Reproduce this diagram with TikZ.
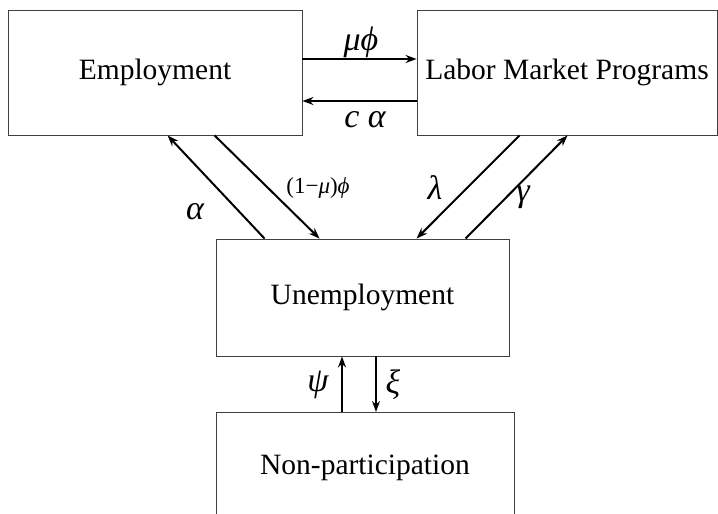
\documentclass[tikz,border=0pt]{standalone}
\usepackage{fontspec}
\setmainfont{Liberation Serif}
\usetikzlibrary{arrows.meta}
\tikzset{
  box/.style={draw=black!75, line width=0.9pt, inner sep=0pt, align=center,
    font=\fontsize{29.5}{34}\selectfont},
  flow/.style={line width=2pt, -{Stealth[length=11pt,width=8pt]}},
  lab/.style={inner sep=0pt, font=\fontsize{34}{38}\selectfont\itshape},
  smalllab/.style={inner sep=0pt, font=\fontsize{23}{26}\selectfont},
}
\begin{document}
\begin{tikzpicture}[x=1pt,y=-1pt]
\useasboundingbox (0,0) rectangle (718,514);
\clip (0,0) rectangle (718,514);
% boxes
\node[box, minimum width=294pt, minimum height=125pt] (emp) at (155,72.5) {Employment};
\node[box, minimum width=300pt, minimum height=125pt] (lmp) at (567,72.5) {Labor Market Programs};
\node[box, minimum width=293pt, minimum height=117pt] (une) at (362.5,297.5) {Unemployment};
\node[box, minimum width=298pt, minimum height=120pt, anchor=north] (non) at (365,412) {};
\node[box, draw=none] (nontext) at (365,468) {Non-participation};
% horizontal flows
\draw[flow] ([yshift=13.5pt]emp.east) -- ([yshift=13.5pt]lmp.west);
\draw[flow] ([yshift=-28.5pt]lmp.west) -- ([yshift=-28.5pt]emp.east);
\node[lab] (lmuphi) at (361,42) {μϕ};
\node[lab] (lca) at (365,120) {c α};
% Employment <-> Unemployment
\draw[flow] ([xshift=49pt]une.north west) -- ([xshift=160pt]emp.south west);
\draw[flow] ([xshift=207pt]emp.south west) -- ([xshift=104pt]une.north west);
\node[lab] (lalpha) at (195,212) {α};
\node[smalllab] (lmu) at (318,188) {(1−\textit{μ})\textit{ϕ}};
% Labor <-> Unemployment
\draw[flow] ([xshift=103pt]lmp.south west) -- ([xshift=201pt]une.north west);
\draw[flow] ([xshift=250pt]une.north west) -- ([xshift=151pt]lmp.south west);
\node[lab] (llambda) at (435,188) {λ};
\node[lab] (lgamma) at (523,197) {γ};
% Unemployment <-> Non-participation
\draw[flow] ([xshift=-23pt]non.north) -- ([xshift=-20.5pt]une.south);
\draw[flow] ([xshift=13.5pt]une.south) -- ([xshift=11pt]non.north);
\node[lab] (lpsi) at (318,385) {ψ};
\node[lab] (lxi) at (393,385) {ξ};
\end{tikzpicture}
\end{document}
